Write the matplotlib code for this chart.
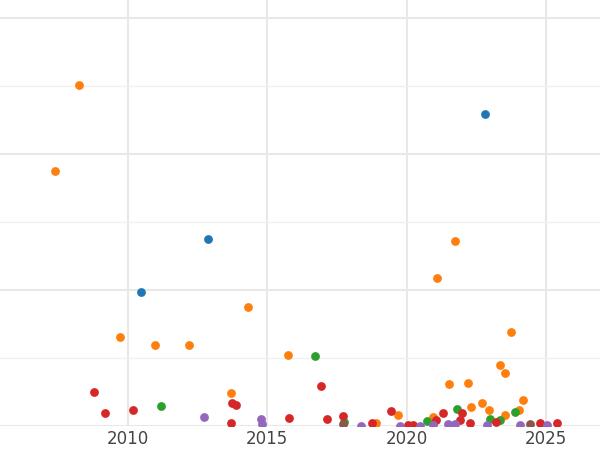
import matplotlib
matplotlib.use("Agg")
import matplotlib.pyplot as plt

series = {
 "#ff7f0e": ([2008.24,2007.38,2009.72,2010.97,2012.19,2014.31,2013.70,2015.74,2021.09,2021.74,2021.52,2022.20,2022.31,2022.70,2022.96,2023.35,2023.53,2023.75,2024.18,2024.03,2019.69,2018.90,2020.95,2023.53],
             [5.01,3.75,1.31,1.19,1.19,1.75,0.49,1.04,2.18,2.72,0.62,0.63,0.28,0.34,0.24,0.90,0.78,1.38,0.38,0.24,0.16,0.04,0.13,0.16]),
 "#1f77b4": ([2010.47,2012.87,2022.81],[1.97,2.75,4.59]),
 "#2ca02c": ([2011.19,2016.71,2021.81,2023.89,2022.99,2020.73,2023.35,2017.75],
             [0.29,1.03,0.25,0.21,0.10,0.07,0.09,0.06]),
 "#d62728": ([2008.78,2009.18,2010.18,2013.73,2013.88,2013.70,2015.78,2016.93,2017.14,2017.72,2019.44,2021.31,2021.99,2018.76,2020.05,2020.23,2021.05,2022.27,2023.21,2024.79,2025.40,2021.92],
             [0.50,0.19,0.24,0.34,0.31,0.04,0.12,0.59,0.10,0.15,0.22,0.19,0.19,0.04,0.01,0.01,0.09,0.04,0.06,0.04,0.04,0.09]),
 "#9467bd": ([2012.73,2014.77,2014.81,2018.36,2019.76,2021.48,2020.48,2021.74,2022.88,2024.07,2025.04,2020.95],
             [0.13,0.10,0.03,0.0,0.0,0.03,0.0,0.03,0.01,0.01,0.01,0.01]),
 "#8c564b": ([2017.72,2024.43],[0.03,0.03]),
}
xticks = [2010, 2015, 2020, 2025]

fig = plt.figure(figsize=(6, 4.5), dpi=100)
ax = fig.add_axes([0, 0.0533, 1, 0.9467])
for c, (xs, ys) in series.items():
    ax.scatter(xs, ys, s=40, color=c, zorder=3, linewidths=0)
ax.set_xlim(2005.41, 2026.94)
ax.set_ylim(0, 6.26)
ax.set_xticks(xticks)
ax.set_yticks([0, 2, 4, 6])
ax.set_yticks([1, 3, 5], minor=True)
ax.grid(True, which="major", color="#e8e8e8", linewidth=1.5, zorder=0)
ax.grid(True, which="minor", axis="y", color="#f0f0f0", linewidth=1, zorder=0)
ax.set_yticklabels([])
ax.tick_params(length=0, which="both", labelsize=12, labelcolor="#444444", pad=3)
for s in ax.spines.values():
    s.set_visible(False)
fig.savefig("out.png")
